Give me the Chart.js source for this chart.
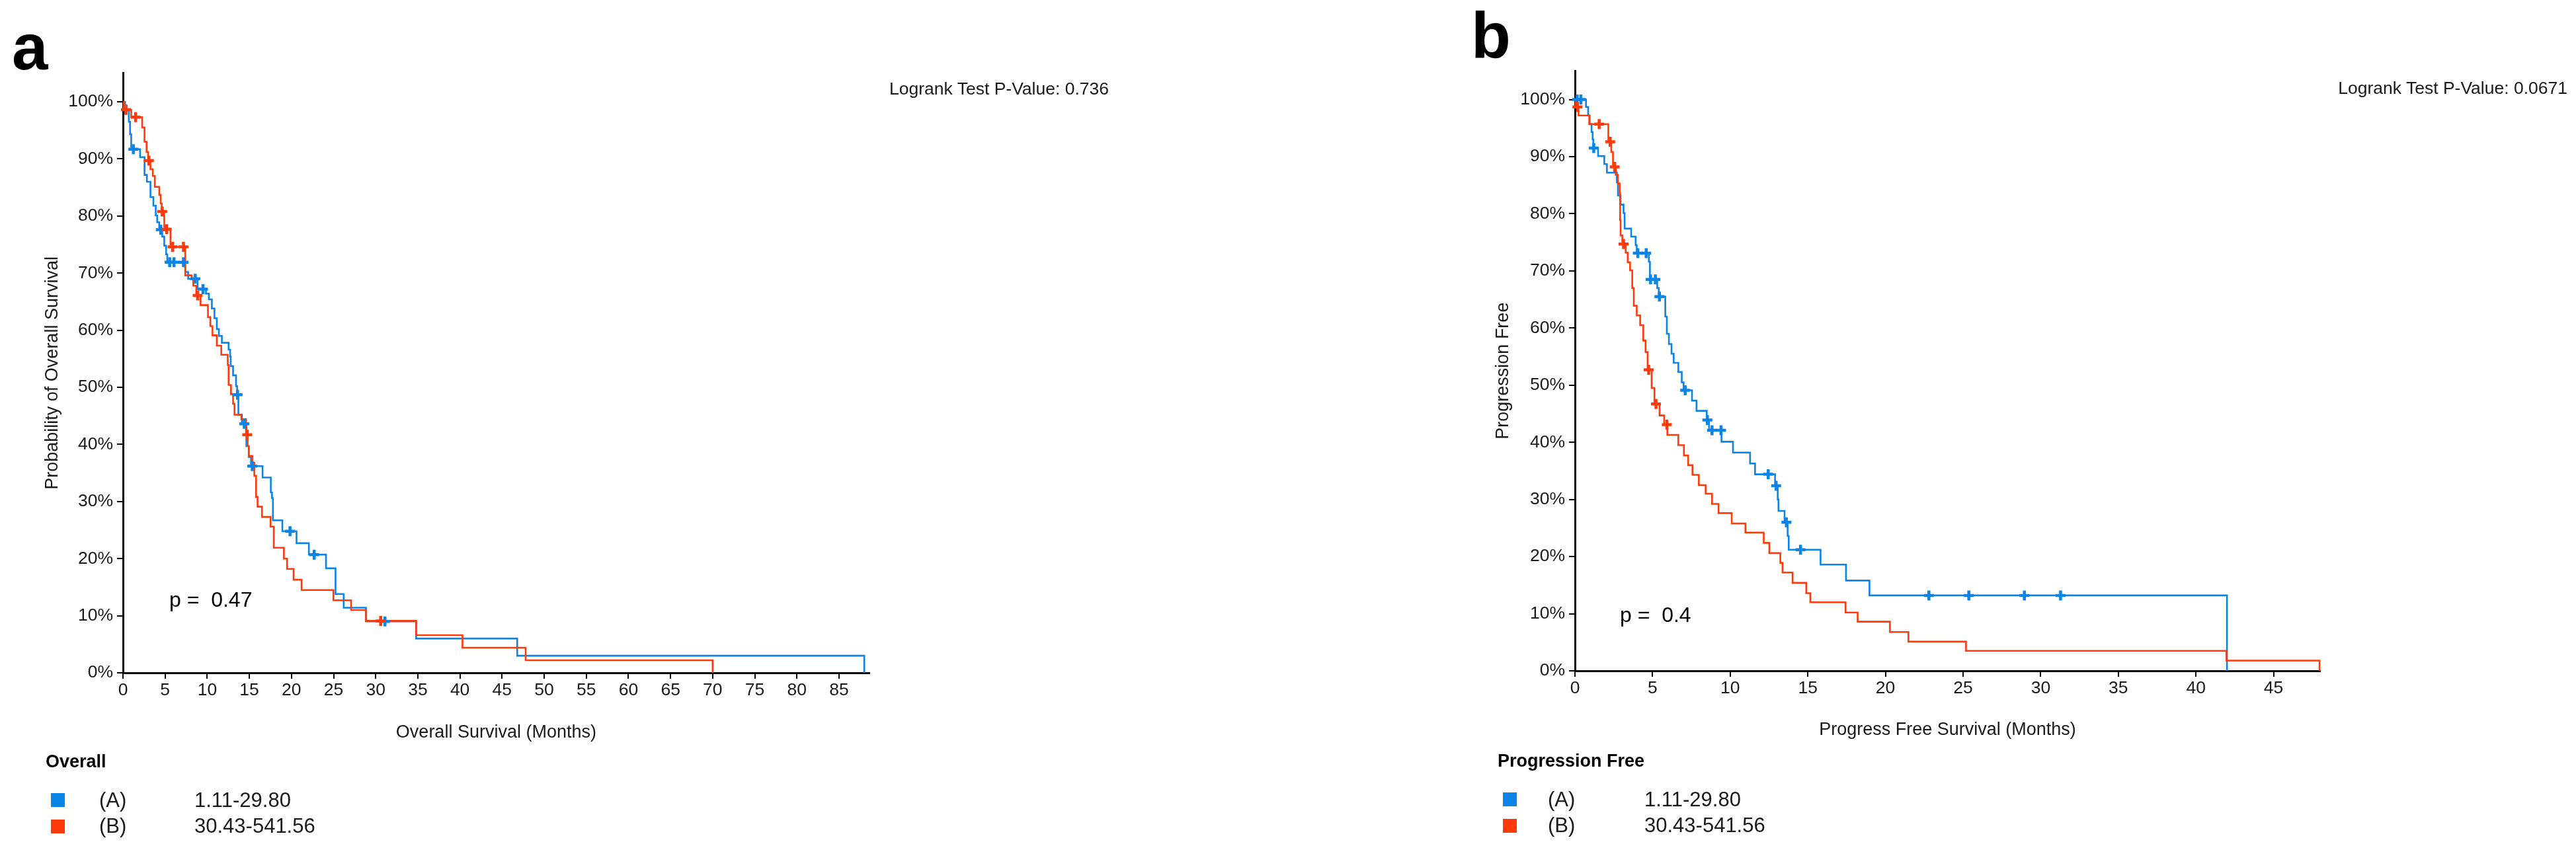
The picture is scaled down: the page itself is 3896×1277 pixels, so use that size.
<!DOCTYPE html>
<html><head><meta charset="utf-8">
<script src="https://cdn.jsdelivr.net/npm/chart.js@4.4.1/dist/chart.umd.min.js"></script>
<style>
html,body{margin:0;padding:0;background:#fff;}
#page{position:relative;width:3896px;height:1277px;overflow:hidden;background:#fff;font-family:"Liberation Sans",Arial,sans-serif;color:#1a1a1a;}
canvas{position:absolute;top:0;}
.t{position:absolute;line-height:1;white-space:pre;}
.sq{position:absolute;width:21px;height:21px;}
</style></head>
<body><div id="page">
<canvas id="c1" width="1948" height="1277" style="left:0;width:1948px;height:1277px"></canvas>
<canvas id="c2" width="1948" height="1277" style="left:1948px;width:1948px;height:1277px"></canvas>

<div class="t" style="left:18px;top:22px;font-size:98px;font-weight:bold;color:#000">a</div>
<div class="t" style="left:2225px;top:4px;font-size:98px;font-weight:bold;color:#000">b</div>

<div class="t" style="right:2219px;top:121px;font-size:26.5px">Logrank Test P-Value: 0.736</div>
<div class="t" style="right:13px;top:120px;font-size:26.5px">Logrank Test P-Value: 0.0671</div>

<div class="t" style="left:256px;top:891px;font-size:32px;color:#000">p =  0.47</div>
<div class="t" style="left:2450px;top:914px;font-size:32px;color:#000">p =  0.4</div>

<div class="t" style="left:69px;top:1139px;font-size:27px;font-weight:bold;color:#000">Overall</div>
<div class="sq" style="left:77px;top:1200px;background:#0A84E6"></div>
<div class="sq" style="left:77px;top:1240px;background:#FF3A0A"></div>
<div class="t" style="left:150px;top:1195px;font-size:31px">(A)</div>
<div class="t" style="left:294px;top:1195px;font-size:31px">1.11-29.80</div>
<div class="t" style="left:150px;top:1234px;font-size:31px">(B)</div>
<div class="t" style="left:294px;top:1234px;font-size:31px">30.43-541.56</div>

<div class="t" style="left:2265px;top:1138px;font-size:27px;font-weight:bold;color:#000">Progression Free</div>
<div class="sq" style="left:2273px;top:1199px;background:#0A84E6"></div>
<div class="sq" style="left:2273px;top:1239px;background:#FF3A0A"></div>
<div class="t" style="left:2341px;top:1194px;font-size:31px">(A)</div>
<div class="t" style="left:2487px;top:1194px;font-size:31px">1.11-29.80</div>
<div class="t" style="left:2341px;top:1233px;font-size:31px">(B)</div>
<div class="t" style="left:2487px;top:1233px;font-size:31px">30.43-541.56</div>
</div>
<script>
// ---------- Overall survival (panel a) ----------
const osTimeA = [0, 0.25, 0.7, 0.84, 0.98, 2.03, 2.56, 2.84, 3.26, 3.61, 3.89, 4.06, 4.3, 4.66, 4.9, 5.12, 5.26, 7.39, 7.74, 8.86, 9.85, 10.2, 10.55, 10.86, 11.14, 11.39, 11.74, 12.54, 12.72, 12.79, 13.07, 13.42, 13.55, 13.7, 14.12, 14.65, 14.93, 15.2, 16.57, 17.55, 17.69, 17.8, 18.92, 20.6, 22.07, 24.1, 25.23, 26.2, 28.84, 34.8, 46.8, 88.0];
const osSurvA = [100, 98.6, 96.5, 94.3, 91.7, 90.3, 87.2, 86.0, 83.3, 81.8, 80.1, 78.9, 77.6, 76.4, 74.8, 73.3, 71.9, 70.2, 69.0, 67.2, 66.4, 65.4, 63.8, 62.1, 60.2, 59.0, 57.8, 56.6, 55.4, 53.7, 52.1, 50.2, 48.7, 45.2, 43.6, 39.7, 37.8, 36.2, 34.2, 31.6, 30.6, 26.7, 24.8, 22.7, 20.7, 18.3, 13.8, 11.4, 9.0, 6.0, 3.0, 0];
const osCensTimeA = [0.35, 1.23, 4.49, 5.54, 6.06, 7.18, 8.58, 9.5, 13.6, 14.4, 15.35, 19.83, 22.7, 31.1];
const osCensSurvA = [98.6, 91.7, 77.6, 71.9, 71.9, 71.9, 69.0, 67.2, 48.7, 43.6, 36.2, 24.8, 20.7, 9.0];

const osTimeB = [0, 0.1, 0.98, 2.28, 2.56, 2.8, 2.98, 3.26, 3.54, 3.78, 4.31, 4.48, 4.6, 4.9, 5.1, 5.64, 7.39, 8.16, 8.34, 8.7, 9.21, 10.09, 10.37, 10.62, 11.14, 11.67, 12.44, 12.54, 12.82, 13.07, 13.24, 14.05, 14.6, 14.8, 14.93, 15.35, 15.59, 15.8, 15.98, 16.5, 17.52, 17.9, 19.1, 19.48, 20.25, 21.2, 24.98, 27.08, 28.84, 34.8, 40.3, 47.8, 70.0];
const osSurvB = [100, 98.6, 97.3, 95.5, 93.0, 91.2, 89.7, 88.2, 87.0, 85.1, 83.7, 82.2, 80.8, 78.1, 77.7, 74.6, 69.6, 69.0, 67.8, 66.1, 64.4, 62.3, 60.7, 59.1, 57.3, 55.7, 53.9, 50.4, 48.8, 47.1, 45.2, 44.4, 41.7, 39.7, 38.0, 36.8, 34.5, 30.8, 29.1, 27.3, 25.6, 21.9, 20.0, 18.2, 16.3, 14.5, 12.7, 11.0, 9.1, 6.6, 4.4, 2.2, 0];
const osCensTimeB = [0.35, 1.5, 3.08, 4.66, 5.19, 5.89, 7.18, 8.86, 14.75, 30.59];
const osCensSurvB = [98.6, 97.3, 89.7, 80.8, 77.7, 74.6, 74.6, 66.1, 41.7, 9.1];

// ---------- Progression free survival (panel b) ----------
const pfsTimeA = [0, 0.71, 0.85, 0.95, 1.07, 1.14, 1.18, 1.49, 1.89, 2.06, 2.7, 2.77, 2.94, 3.13, 3.2, 3.62, 3.91, 3.98, 4.76, 4.83, 5.3, 5.4, 5.82, 5.92, 6.05, 6.22, 6.36, 6.66, 6.88, 7.0, 7.54, 7.83, 8.49, 8.64, 9.44, 10.18, 11.28, 11.6, 12.89, 13.06, 13.11, 13.5, 13.7, 13.77, 15.82, 17.46, 18.97, 42.0];
const pfsSurvA = [100, 98.7, 97.2, 95.7, 94.3, 93.0, 91.5, 90.1, 88.7, 87.2, 85.5, 83.2, 81.6, 80.1, 77.4, 76.0, 74.5, 73.1, 71.6, 68.5, 67.0, 65.5, 62.0, 59.0, 57.2, 55.5, 53.9, 52.3, 50.5, 49.1, 47.3, 45.5, 43.9, 42.1, 40.1, 38.2, 36.3, 34.4, 32.4, 30.0, 28.0, 26.0, 23.6, 21.2, 18.6, 15.8, 13.2, 0];
const pfsCensTimeA = [0.14, 0.38, 1.21, 4.05, 4.59, 4.87, 5.18, 5.44, 7.1, 8.53, 8.83, 9.41, 12.45, 12.96, 13.62, 14.53, 22.8, 25.37, 28.95, 31.28];
const pfsCensSurvA = [100, 100, 91.5, 73.1, 73.1, 68.5, 68.5, 65.5, 49.1, 43.9, 42.1, 42.1, 34.4, 32.4, 26.0, 21.2, 13.2, 13.2, 13.2, 13.2];

const pfsTimeB = [0, 0.04, 0.23, 0.92, 2.15, 2.34, 2.45, 2.63, 2.77, 2.88, 2.91, 2.94, 3.05, 3.27, 3.4, 3.55, 3.69, 3.79, 3.98, 4.2, 4.4, 4.55, 4.68, 4.94, 5.12, 5.45, 5.75, 5.95, 6.66, 7.02, 7.29, 7.57, 7.98, 8.42, 8.83, 9.25, 10.1, 10.98, 12.16, 12.52, 13.23, 13.37, 14.02, 14.9, 15.16, 17.43, 18.21, 20.29, 21.48, 25.19, 41.97, 47.96];
const pfsSurvB = [100, 98.7, 97.2, 95.7, 92.6, 90.8, 88.2, 86.8, 85.3, 83.5, 78.9, 76.2, 74.7, 73.2, 71.5, 70.1, 67.0, 63.9, 62.2, 60.5, 57.8, 55.8, 52.7, 49.5, 46.7, 44.7, 43.1, 41.3, 39.5, 37.7, 36.0, 34.3, 32.5, 31.0, 29.2, 27.6, 25.8, 24.2, 22.4, 20.6, 18.9, 17.2, 15.4, 13.6, 12.0, 10.2, 8.6, 6.8, 5.1, 3.5, 1.8, 0];
const pfsCensTimeB = [0.16, 1.56, 2.27, 2.56, 3.13, 4.75, 5.22, 5.92];
const pfsCensSurvB = [98.7, 95.7, 92.6, 88.2, 74.7, 52.7, 46.7, 43.1];

// ---------- tick labels ----------
const osXTicks = [0, 5, 10, 15, 20, 25, 30, 35, 40, 45, 50, 55, 60, 65, 70, 75, 80, 85];
const pfsXTicks = [0, 5, 10, 15, 20, 25, 30, 35, 40, 45];
const yTicks = [0, 10, 20, 30, 40, 50, 60, 70, 80, 90, 100];

const BLUE = '#0A84E6';
const RED = '#FF3A0A';
const FONT = '"Liberation Sans", Arial, sans-serif';

function pts(ts, ss) { return ts.map((t, i) => ({ x: t, y: ss[i] })); }

function makeChart(id, o) {
  const lineDs = (data, color, order) => ({
    data, borderColor: color, backgroundColor: color, borderWidth: 2.6, stepped: true,
    pointRadius: 0, pointHoverRadius: 0, fill: false, tension: 0, order, clip: false
  });
  const censDs = (data, color, order) => ({
    data, showLine: false, borderColor: color, backgroundColor: color, pointStyle: 'cross',
    pointRadius: 7.5, pointHoverRadius: 7.5, pointBorderWidth: 4.5, order, clip: false
  });
  return new Chart(document.getElementById(id), {
    type: 'line',
    data: {
      datasets: [
        lineDs(pts(o.tA, o.sA), BLUE, 4),
        lineDs(pts(o.tB, o.sB), RED, 3),
        censDs(pts(o.cA, o.csA), BLUE, 2),
        censDs(pts(o.cB, o.csB), RED, 1)
      ]
    },
    options: {
      responsive: false, animation: false, devicePixelRatio: 1,
      events: [],
      layout: { padding: { left: o.padL, top: o.padT, right: o.padR, bottom: o.padB } },
      plugins: { legend: { display: false }, tooltip: { enabled: false } },
      scales: {
        x: {
          type: 'linear', min: 0, max: o.xMax,
          afterBuildTicks: s => { s.ticks = o.xTicks.map(v => ({ value: v })); },
          afterFit: s => { s.height = o.xH; },
          ticks: { font: { family: FONT, size: 26.5 }, color: '#1a1a1a', padding: 2, maxRotation: 0, minRotation: 0, autoSkip: false, callback: v => String(v) },
          grid: { display: true, drawOnChartArea: false, drawTicks: true, tickLength: 9, color: '#000', lineWidth: 2 },
          border: { display: true, color: '#000', width: 3 },
          title: { display: true, text: o.xTitle, font: { family: FONT, size: 27 }, color: '#1a1a1a', padding: { top: 0, bottom: 0 } }
        },
        y: {
          type: 'linear', min: 0, max: 105,
          afterBuildTicks: s => { s.ticks = o.yTicks.map(v => ({ value: v })); },
          afterFit: s => { s.width = o.yW; },
          ticks: { font: { family: FONT, size: 26.5 }, color: '#1a1a1a', padding: 6, autoSkip: false, callback: v => v + '%' },
          grid: { display: true, drawOnChartArea: false, drawTicks: true, tickLength: 9, color: '#000', lineWidth: 2 },
          border: { display: true, color: '#000', width: 3 },
          title: { display: true, text: o.yTitle, font: { family: FONT, size: 27 }, color: '#1a1a1a', padding: { top: o.yTitlePad, bottom: 0 } }
        }
      }
    }
  });
}

makeChart('c1', {
  tA: osTimeA, sA: osSurvA, tB: osTimeB, sB: osSurvB,
  cA: osCensTimeA, csA: osCensSurvA, cB: osCensTimeB, csB: osCensSurvB,
  xTicks: osXTicks, yTicks: yTicks, xMax: 88.6,
  xTitle: 'Overall Survival (Months)', yTitle: 'Probability of Overall Survival',
  padL: 0, yW: 186, yTitlePad: 63.8, padT: 110.8, padR: 633.2, xH: 107.2, padB: 151.8
});

makeChart('c2', {
  tA: pfsTimeA, sA: pfsSurvA, tB: pfsTimeB, sB: pfsSurvB,
  cA: pfsCensTimeA, csA: pfsCensSurvA, cB: pfsCensTimeB, csB: pfsCensSurvB,
  xTicks: pfsXTicks, yTicks: yTicks, xMax: 48,
  xTitle: 'Progress Free Survival (Months)', yTitle: 'Progression Free',
  padL: 250, yW: 184, yTitlePad: 59.8, padT: 107.3, padR: 387, xH: 106.2, padB: 155.8
});
</script>
</body></html>
